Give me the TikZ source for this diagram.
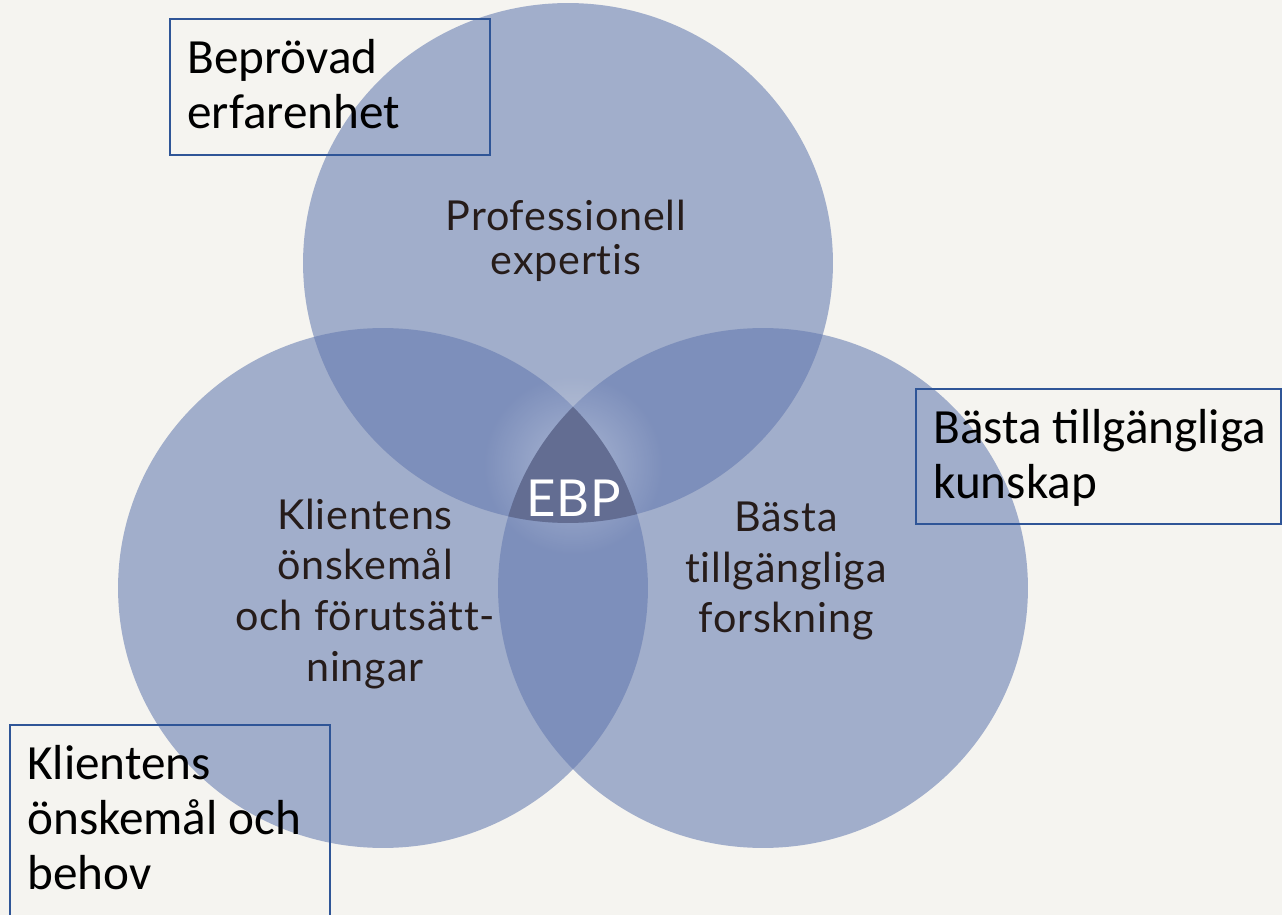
\documentclass[tikz,border=0pt]{standalone}
\usepackage{fontspec}
\setmainfont{Carlito}
\newfontfamily\vennfont[LetterSpace=2, Ligatures={NoCommon}]{Lato}
\usetikzlibrary{fadings}

\definecolor{paper}{RGB}{245,244,240}
\definecolor{vennblue}{RGB}{99,121,175}
\definecolor{ebpcore}{RGB}{99,109,146}
\definecolor{boxline}{RGB}{47,85,151}
\definecolor{vennink}{RGB}{38,28,26}
\tikzfading[name=glowfade, inner color=transparent!0, outer color=transparent!100]

\begin{document}
\begin{tikzpicture}[x=0.02cm, y=-0.02cm,
    vennsize/.style={x radius=5.3cm, y radius=5.2cm},
    venn/.style={fill=vennblue, fill opacity=0.57},
    vennlabel/.style={font=\vennfont\fontsize{23.5}{29}\selectfont, text=vennink, align=center, inner sep=0pt},
    infobox/.style={draw=boxline, line width=0.9pt, anchor=north west, inner sep=0pt},
    boxtext/.style={font=\fontsize{28}{31.3}\selectfont, align=left, anchor=north west, inner sep=0pt}]
  % Background
  \fill[paper] (0,0) rectangle (1282,915);
  \useasboundingbox (0,0) rectangle (1282,915);

  % Circles
  \coordinate (cexp) at (568,263);
  \coordinate (cklient) at (383,588);
  \coordinate (cforsk) at (763,588);
  \coordinate (cebp) at (573,465);
  \fill[venn] (cexp) ellipse [vennsize];
  \fill[venn] (cklient) ellipse [vennsize];
  \fill[venn] (cforsk) ellipse [vennsize];

  % Glow and core
  \fill[white, fill opacity=0.35, path fading=glowfade] (cebp) circle [radius=1.8cm];
  \begin{scope}
    \clip (cexp) ellipse [vennsize];
    \clip (cklient) ellipse [vennsize];
    \fill[ebpcore] (cforsk) ellipse [vennsize];
  \end{scope}

  % Circle labels
  \node[vennlabel, font=\vennfont\fontsize{23.5}{25}\selectfont] (expertis) at (566,241) {Professionell\\expertis};
  \node[vennlabel] (klient) at (365,594) {Klientens\\önskemål\\och förutsätt-\\ningar};
  \node[vennlabel] (forskning) at (786,571) {Bästa\\tillgängliga\\forskning};
  \node[vennlabel, text=white, font=\vennfont\fontsize{29}{32}\selectfont] (ebp) at (574,498) {EBP};

  % Boxes
  \node[infobox, minimum width=6.4cm, minimum height=2.72cm] (erfBox) at (169,18) {};
  \node[infobox, minimum width=7.3cm, minimum height=2.7cm] (kunskapBox) at (915,388) {};
  \node[infobox, minimum width=6.4cm, minimum height=4.2cm] (behovBox) at (9,724) {};
  \node[boxtext] (erfText) at ([shift={(18,21)}]erfBox.north west) {Beprövad\\erfarenhet};
  \node[boxtext] (kunskapText) at ([shift={(18,21)}]kunskapBox.north west) {Bästa tillgängliga\\kunskap};
  \node[boxtext] (behovText) at ([shift={(18,21)}]behovBox.north west) {Klientens\\önskemål och\\behov};
\end{tikzpicture}
\end{document}
